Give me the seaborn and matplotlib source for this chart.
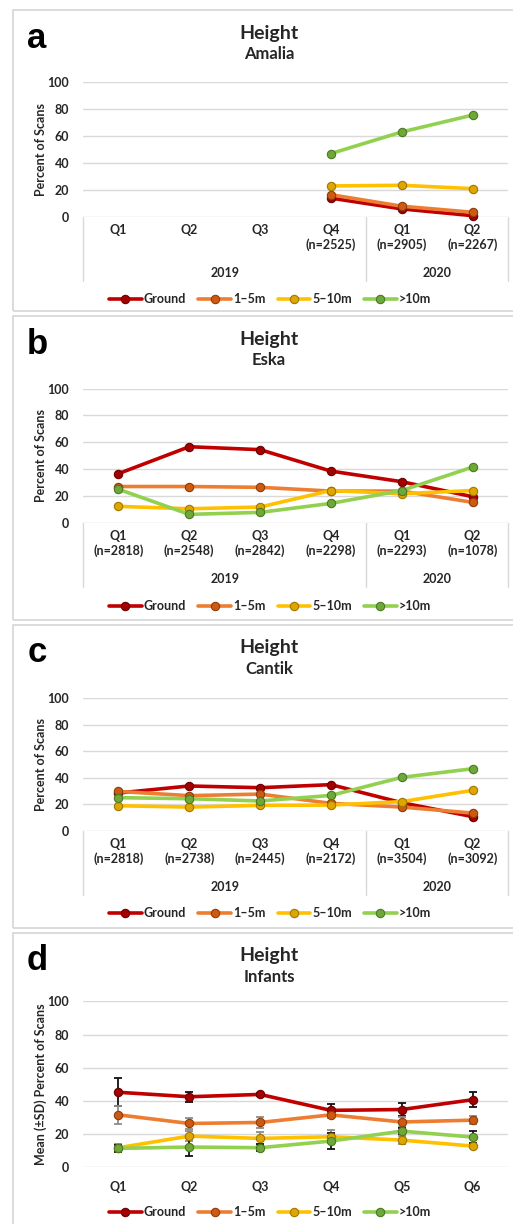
import matplotlib
matplotlib.use("Agg")
import numpy as np
import pandas as pd
import matplotlib.pyplot as plt
from matplotlib.patches import Rectangle
import seaborn as sns

W, H = 513, 1224

# series names and colours
heights = ["Ground", "1–5m", "5–10m", ">10m"]
line_colors = ["#c00000", "#ed7d31", "#ffc000", "#92d050"]
face_colors = ["#a30000", "#cc5a12", "#dfa600", "#6fa83a"]
edge_colors = ["#6a0000", "#8f3c08", "#a07800", "#4a7a22"]
bar_colors = ["#111111", "#8c8c8c", "#8c8c8c", "#111111"]

quarters = ["Q1", "Q2", "Q3", "Q4", "Q1", "Q2"]
years = ["2019", "2020"]

# a - Amalia (data from 2019 Q4 only)
amalia_n = [None, None, None, 2525, 2905, 2267]
amalia_pos = [3, 4, 5]
amalia_ground = [14, 6, 1]
amalia_1_5 = [16.5, 8, 3.5]
amalia_5_10 = [23, 23.5, 21]
amalia_10 = [47, 63, 75.5]

# b - Eska
eska_n = [2818, 2548, 2842, 2298, 2293, 1078]
eska_ground = [36.6, 56.7, 54.5, 38.5, 30.6, 19.4]
eska_1_5 = [27, 27, 26.4, 23.6, 23.6, 15.2]
eska_5_10 = [12.2, 10.4, 11.7, 24, 21.6, 24]
eska_10 = [25, 6.2, 7.7, 14.4, 24, 41.5]

# c - Cantik
cantik_n = [2818, 2738, 2445, 2172, 3504, 3092]
cantik_ground = [28.4, 33.7, 32.4, 34.7, 21.1, 10.6]
cantik_1_5 = [29.6, 26.4, 27.6, 20.6, 17.8, 13.3]
cantik_5_10 = [18.8, 17.8, 19.1, 19.3, 21.9, 30.4]
cantik_10 = [24.9, 24.1, 22.4, 26.6, 40.2, 46.7]

# d - Infants, mean and SD
infant_q = ["Q1", "Q2", "Q3", "Q4", "Q5", "Q6"]
inf_ground = [45.2, 42.5, 43.9, 34.3, 34.8, 40.7]
inf_ground_sd = [8.3, 3.0, 1.0, 4.0, 4.0, 4.5]
inf_1_5 = [31.6, 26.4, 27.0, 31.6, 27.3, 28.4]
inf_1_5_sd = [5.5, 3.4, 3.4, 2.2, 3.0, 2.4]
inf_5_10 = [11.8, 18.8, 17.4, 18.4, 16.4, 12.8]
inf_5_10_sd = [2.2, 3.2, 4.0, 4.0, 2.4, 1.4]
inf_10 = [11.4, 12.2, 11.8, 15.8, 21.8, 18.2]
inf_10_sd = [2.2, 5.2, 2.0, 5.0, 2.0, 3.6]

sns.set_theme(style="white")
plt.rcParams["font.family"] = ["Lato", "DejaVu Sans"]
TXT = "#262626"
FS = 9

fig = plt.figure(figsize=(W / 100, H / 100), dpi=100)


def fx(x):
    return x / W


def fy(y):
    return 1 - y / H


def panel_box(top, bottom):
    fig.add_artist(Rectangle((fx(13), fy(bottom)), fx(530 - 13), (bottom - top) / H,
                             transform=fig.transFigure, fill=False,
                             ec="#d9d9d9", lw=1.3))


def make_axes(top, bottom):
    ax = fig.add_axes([fx(83), fy(bottom), fx(508 - 83), (bottom - top) / H])
    ax.set_xlim(-0.5, 5.5)
    ax.set_ylim(0, 100)
    ax.set_yticks(range(0, 101, 20))
    ax.yaxis.grid(True, color="#d9d9d9", lw=1)
    ax.set_axisbelow(True)
    for s in ax.spines.values():
        s.set_visible(False)
    ax.tick_params(axis="y", length=0, pad=10, labelsize=FS, labelcolor=TXT)
    ax.tick_params(axis="x", length=0, labelsize=FS, labelcolor=TXT)
    for t in ax.get_yticklabels():
        t.set_fontweight("bold")
    return ax


def titles(top, letter, subtitle):
    fig.text(fx(37), fy(top + 28), letter, fontsize=25, fontweight="bold",
             family="Liberation Sans", ha="center", va="center", color="black")
    fig.text(fx(269), fy(top + 23), "Height", fontsize=14, fontweight="bold",
             ha="center", va="center", color=TXT)
    fig.text(fx(269), fy(top + 44), subtitle, fontsize=12, fontweight="bold",
             ha="center", va="center", color=TXT)


def draw_lines(ax, pos, series):
    for name, vals, c, fc, e in zip(heights, series, line_colors, face_colors, edge_colors):
        sns.lineplot(x=pos, y=vals, ax=ax, color=c, lw=2.6, marker="o",
                     markersize=6, markerfacecolor=fc, markeredgecolor=e,
                     markeredgewidth=0.8, label=name, clip_on=False)


def legend(ax, y):
    h, l = ax.get_legend_handles_labels()
    ax.legend(h, l, loc="center", bbox_to_anchor=(fx(270), fy(y)),
              bbox_transform=fig.transFigure, ncol=4, frameon=False,
              handlelength=2.6, handletextpad=0.15, columnspacing=1.0,
              prop={"weight": "bold", "size": FS})


def category_axis(ax, n_list, h_px):
    labels = []
    for q, n in zip(quarters, n_list):
        labels.append(q if n is None else f"{q}\n(n={n})")
    ax.set_xticks(range(6))
    ax.set_xticklabels(labels, linespacing=1.25, fontweight="bold")
    ax.tick_params(axis="x", pad=5)
    for xv in [-0.5, 3.5, 5.5]:
        ax.plot([xv, xv], [0, -64 / h_px], color="#d9d9d9", lw=1,
                transform=ax.get_xaxis_transform(), clip_on=False)
    for xv, yr in zip([1.5, 4.5], years):
        ax.text(xv, -56 / h_px, yr, transform=ax.get_xaxis_transform(),
                ha="center", va="center", fontsize=FS, fontweight="bold", color=TXT)


panels = [
    (10, 311, 82, 217, "a", "Amalia", amalia_pos,
     [amalia_ground, amalia_1_5, amalia_5_10, amalia_10], amalia_n, 299),
    (316, 620, 388.7, 522.7, "b", "Eska", list(range(6)),
     [eska_ground, eska_1_5, eska_5_10, eska_10], eska_n, 606),
    (625, 928, 698, 830.7, "c", "Cantik", list(range(6)),
     [cantik_ground, cantik_1_5, cantik_5_10, cantik_10], cantik_n, 913),
]

for btop, bbot, atop, abot, letter, sub, pos, series, n_list, ly in panels:
    panel_box(btop, bbot)
    titles(btop, letter, sub)
    ax = make_axes(atop, abot)
    draw_lines(ax, pos, series)
    category_axis(ax, n_list, abot - atop)
    ax.set_ylabel("Percent of Scans", fontsize=FS, fontweight="bold", color=TXT)
    ax.yaxis.set_label_coords(-0.085, 0.5)
    legend(ax, ly)

# d - infants with SD bars
panel_box(933, 1240)
titles(933, "d", "Infants")
ax = make_axes(1001.3, 1167.3)
pos = list(range(6))
inf_means = [inf_ground, inf_1_5, inf_5_10, inf_10]
inf_sds = [inf_ground_sd, inf_1_5_sd, inf_5_10_sd, inf_10_sd]
for vals, sd, bc in zip(inf_means, inf_sds, bar_colors):
    ax.errorbar(pos, vals, yerr=sd, fmt="none", ecolor=bc, elinewidth=1.3,
                capsize=3, capthick=1.3, zorder=1.5)
draw_lines(ax, pos, inf_means)
ax.set_xticks(pos)
ax.set_xticklabels(infant_q, fontweight="bold")
ax.tick_params(axis="x", pad=10)
ax.set_ylabel("Mean (±SD) Percent of Scans", fontsize=FS, fontweight="bold", color=TXT)
ax.yaxis.set_label_coords(-0.085, 0.5)
legend(ax, 1212)

fig.savefig("out.png", dpi=100)
